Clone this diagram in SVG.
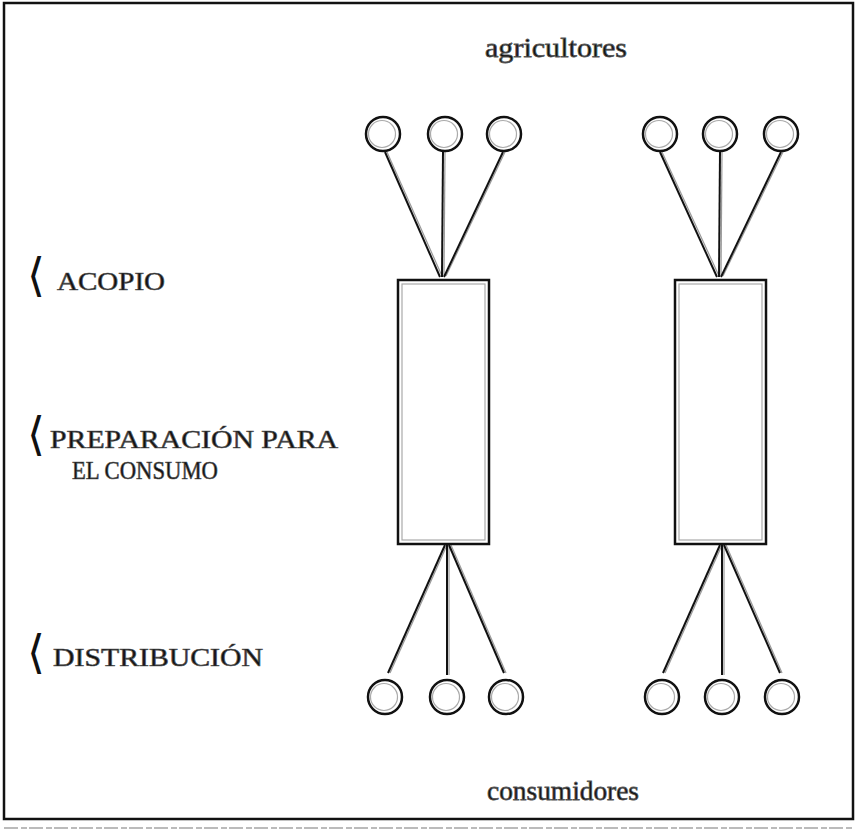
<svg xmlns="http://www.w3.org/2000/svg" width="861" height="833" viewBox="0 0 861 833">
<style>
.frame{fill:none;stroke:#111;stroke-width:2.5}
.node{fill:#fff;stroke:#111;stroke-width:2.5}
.shade{fill:none;stroke:#aaa;stroke-width:1.2}
.ln{stroke:#111;stroke-width:2;fill:none}
.lns{stroke:#999;stroke-width:1.2;fill:none}
.lbl{font-family:"Liberation Serif","Times New Roman",serif;font-size:26px;fill:#111;stroke:#555;stroke-width:0.7}
.low{font-family:"Liberation Serif","Times New Roman",serif;font-size:28px;fill:#111;stroke:#555;stroke-width:0.8}
.brk{font-family:"DejaVu Sans",sans-serif;font-size:46px;fill:#111;font-weight:200}
</style>
<rect width="861" height="833" fill="#fff"/>
<rect class="frame" x="4" y="3" width="849" height="816"/>
<line x1="4" y1="828" x2="853" y2="828" stroke="#bbb" stroke-width="2" stroke-dasharray="14 3 6 2"/>

<g id="labels">
  <text class="brk" x="27" y="291">⟨</text>
  <text class="lbl" x="57" y="290" textLength="108" lengthAdjust="spacingAndGlyphs">ACOPIO</text>
  <text class="brk" x="27" y="450">⟨</text>
  <text class="lbl" x="50" y="448" textLength="288" lengthAdjust="spacingAndGlyphs">PREPARACIÓN PARA</text>
  <text class="lbl" x="72" y="479" textLength="146" lengthAdjust="spacingAndGlyphs">EL CONSUMO</text>
  <text class="brk" x="27" y="668">⟨</text>
  <text class="lbl" x="53" y="666" textLength="210" lengthAdjust="spacingAndGlyphs">DISTRIBUCIÓN</text>
  <text class="low" x="485" y="57" textLength="142" lengthAdjust="spacingAndGlyphs">agricultores</text>
  <text class="low" x="487" y="800" textLength="152" lengthAdjust="spacingAndGlyphs">consumidores</text>
</g>

<g id="connectors">
  <g class="lns">
    <line x1="387" y1="152" x2="442" y2="276"/>
    <line x1="445" y1="152" x2="444" y2="276"/>
    <line x1="505" y1="152" x2="446" y2="276"/>
    <line x1="662" y1="152" x2="719" y2="276"/>
    <line x1="722" y1="152" x2="721" y2="276"/>
    <line x1="783" y1="152" x2="723" y2="276"/>
    <line x1="447" y1="545" x2="390" y2="673"/>
    <line x1="449" y1="545" x2="449" y2="675"/>
    <line x1="451" y1="545" x2="506" y2="673"/>
    <line x1="722" y1="545" x2="665" y2="673"/>
    <line x1="724" y1="545" x2="724" y2="675"/>
    <line x1="726" y1="545" x2="782" y2="673"/>
  </g>
  <g class="ln">
    <line x1="385" y1="152" x2="440" y2="277"/>
    <line x1="443" y1="152" x2="442" y2="277"/>
    <line x1="503" y1="152" x2="444" y2="277"/>
    <line x1="660" y1="152" x2="717" y2="277"/>
    <line x1="720" y1="152" x2="719" y2="277"/>
    <line x1="781" y1="152" x2="721" y2="277"/>
    <line x1="445" y1="545" x2="388" y2="673"/>
    <line x1="447" y1="545" x2="447" y2="675"/>
    <line x1="449" y1="545" x2="504" y2="673"/>
    <line x1="720" y1="545" x2="663" y2="673"/>
    <line x1="722" y1="545" x2="722" y2="675"/>
    <line x1="724" y1="545" x2="780" y2="673"/>
  </g>
</g>

<g id="box-left"><rect class="node" x="398" y="280" width="91" height="264"/><rect class="shade" x="402" y="284" width="83" height="256"/></g>
<g id="box-right"><rect class="node" x="675" y="280" width="91" height="264"/><rect class="shade" x="679" y="284" width="83" height="256"/></g>

<g id="top-1"><circle class="node" cx="383" cy="134" r="17"/><circle class="shade" cx="382" cy="134" r="13.5"/></g>
<g id="top-2"><circle class="node" cx="445" cy="134" r="17"/><circle class="shade" cx="444" cy="134" r="13.5"/></g>
<g id="top-3"><circle class="node" cx="504" cy="134" r="17"/><circle class="shade" cx="503" cy="134" r="13.5"/></g>
<g id="top-4"><circle class="node" cx="660" cy="134" r="17"/><circle class="shade" cx="659" cy="134" r="13.5"/></g>
<g id="top-5"><circle class="node" cx="720" cy="134" r="17"/><circle class="shade" cx="719" cy="134" r="13.5"/></g>
<g id="top-6"><circle class="node" cx="781" cy="134" r="17"/><circle class="shade" cx="780" cy="134" r="13.5"/></g>

<g id="bot-1"><circle class="node" cx="385" cy="697" r="17"/><circle class="shade" cx="384" cy="697" r="13.5"/></g>
<g id="bot-2"><circle class="node" cx="447" cy="697" r="17"/><circle class="shade" cx="446" cy="697" r="13.5"/></g>
<g id="bot-3"><circle class="node" cx="506" cy="697" r="17"/><circle class="shade" cx="505" cy="697" r="13.5"/></g>
<g id="bot-4"><circle class="node" cx="662" cy="697" r="17"/><circle class="shade" cx="661" cy="697" r="13.5"/></g>
<g id="bot-5"><circle class="node" cx="722" cy="697" r="17"/><circle class="shade" cx="721" cy="697" r="13.5"/></g>
<g id="bot-6"><circle class="node" cx="782" cy="697" r="17"/><circle class="shade" cx="781" cy="697" r="13.5"/></g>
</svg>
